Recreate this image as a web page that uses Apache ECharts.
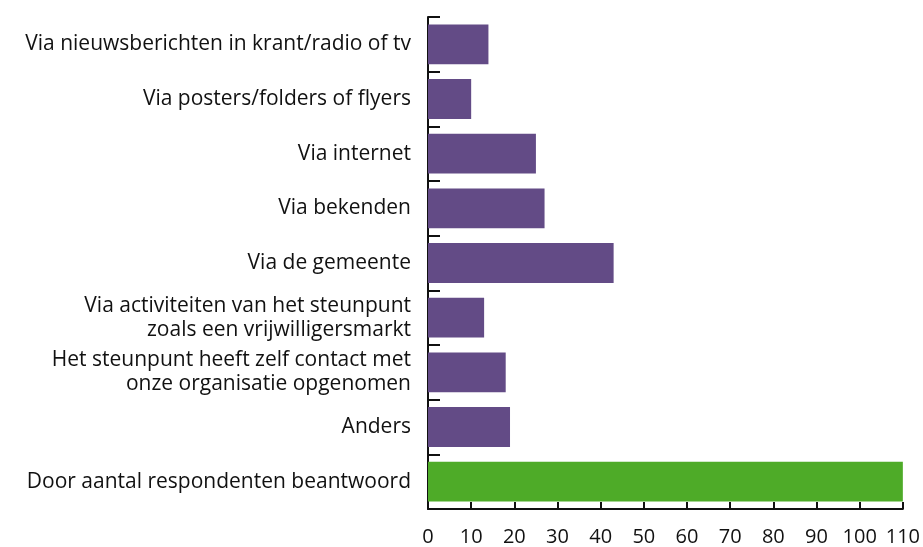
<!DOCTYPE html>
<html>
<head>
<meta charset="utf-8">
<script src="https://cdn.jsdelivr.net/npm/echarts@6/dist/echarts.min.js"></script>
<style>
  html, body { margin: 0; padding: 0; background: #fff; }
  #chart { width: 923px; height: 547px; }
</style>
</head>
<body>
<div id="chart"></div>
<script>
// categories top to bottom
const categories = [
  "Via nieuwsberichten in krant/radio of tv",
  "Via posters/folders of flyers",
  "Via internet",
  "Via bekenden",
  "Via de gemeente",
  "Via activiteiten van het steunpunt\nzoals een vrijwilligersmarkt",
  "Het steunpunt heeft zelf contact met\nonze organisatie opgenomen",
  "Anders",
  "Door aantal respondenten beantwoord"
];
const values = [14, 10, 25, 27, 43, 13, 18, 19, 110];
const xTicks = { min: 0, max: 110, interval: 10 };

const PURPLE = "#634b86";
const GREEN = "#4eab28";

const chart = echarts.init(document.getElementById("chart"));

// laatste balk (totaal) krijgt groen
const barData = values.map((v, i) => ({
  value: v,
  itemStyle: { color: i === values.length - 1 ? GREEN : PURPLE }
}));

chart.setOption({
  animation: false,
  textStyle: { fontFamily: "Open Sans" },
  grid: { left: 428, right: 20, top: 17, bottom: 37 },
  xAxis: {
    type: "value",
    min: xTicks.min,
    max: xTicks.max,
    interval: xTicks.interval,
    splitLine: { show: false },
    axisLine: { show: true, lineStyle: { color: "#111", width: 2 } },
    axisTick: { show: true, inside: true, length: 7, lineStyle: { color: "#111", width: 2 } },
    axisLabel: { color: "#111", fontSize: 20, margin: 18 }
  },
  yAxis: {
    type: "category",
    inverse: true,
    data: categories,
    axisLine: { show: true, lineStyle: { color: "#111", width: 2 } },
    axisTick: { show: true, inside: true, length: 12, lineStyle: { color: "#111", width: 2 } },
    axisLabel: {
      color: "#111", fontSize: 21, margin: 17, lineHeight: 24, align: "right",
      padding: [8, 0, 0, 0]
    }
  },
  series: [{
    type: "bar",
    data: barData,
    barCategoryGap: "27%"
  }]
});
</script>
</body>
</html>
